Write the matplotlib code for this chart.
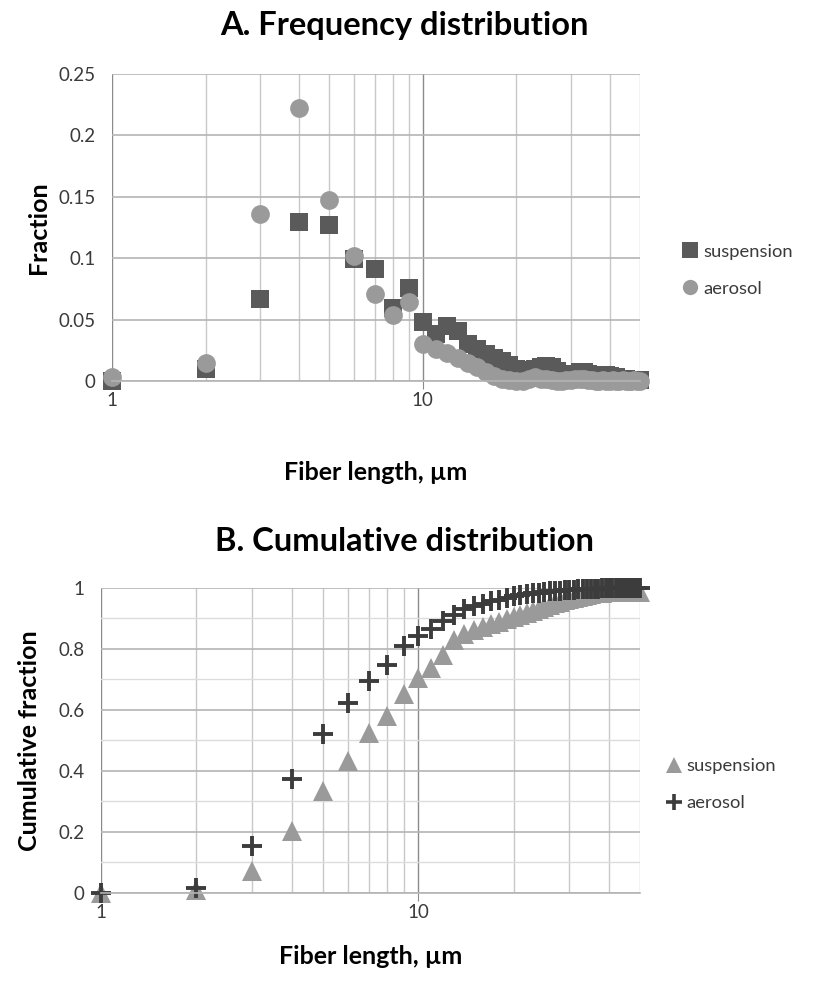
import matplotlib.pyplot as plt
from matplotlib.lines import Line2D
from matplotlib.ticker import FixedLocator, NullFormatter, FuncFormatter

plt.rcParams['font.family'] = ['Lato', 'DejaVu Sans']

# fiber length bins, um
length = list(range(1, 51))

# A. frequency distribution
freq_suspension = [0.0, 0.0095, 0.067, 0.129, 0.127, 0.099, 0.091, 0.059, 0.076, 0.048,
                   0.038, 0.045, 0.041, 0.030, 0.026, 0.022, 0.019, 0.016, 0.013, 0.010,
                   0.009, 0.009, 0.010, 0.011, 0.012, 0.011, 0.008, 0.006, 0.005, 0.005,
                   0.006, 0.007, 0.007, 0.006, 0.005, 0.004, 0.004, 0.005, 0.005, 0.004,
                   0.003, 0.003, 0.002, 0.002, 0.002, 0.001, 0.001, 0.001, 0.001, 0.001]
freq_aerosol = [0.003, 0.015, 0.136, 0.222, 0.147, 0.102, 0.071, 0.054, 0.064, 0.030,
                0.026, 0.023, 0.019, 0.015, 0.011, 0.007, 0.004, 0.002, 0.001, 0.0,
                0.0, 0.002, 0.003, 0.002, 0.002, 0.001, 0.0, 0.0, 0.001, 0.001,
                0.002, 0.002, 0.002, 0.001, 0.001, 0.0, 0.0, 0.001, 0.0, 0.0,
                0.001, 0.0, 0.0, 0.001, 0.0, 0.0, 0.0, 0.001, 0.0, 0.0]

# B. cumulative distribution
cum_suspension = [0.0, 0.01, 0.072, 0.203, 0.333, 0.432, 0.523, 0.579, 0.653, 0.705,
                  0.737, 0.779, 0.827, 0.848, 0.860, 0.871, 0.881, 0.889, 0.896, 0.903,
                  0.910, 0.917, 0.924, 0.931, 0.938, 0.944, 0.949, 0.954, 0.958, 0.962,
                  0.966, 0.970, 0.974, 0.977, 0.980, 0.982, 0.983, 0.984, 0.985, 0.985,
                  0.985, 0.985, 0.985, 0.986, 0.986, 0.986, 0.986, 0.986, 0.986, 0.986]
cum_aerosol = [0.0, 0.016, 0.153, 0.374, 0.522, 0.623, 0.694, 0.746, 0.810, 0.840,
               0.866, 0.890, 0.911, 0.930, 0.940, 0.948, 0.955, 0.961, 0.967, 0.972,
               0.976, 0.979, 0.982, 0.984, 0.986, 0.988, 0.989, 0.990, 0.991, 0.992,
               0.993, 0.994, 0.995, 0.996, 0.996, 0.997, 0.997, 0.998, 0.998, 0.998,
               0.999, 0.999, 0.999, 0.999, 0.999, 1.0, 1.0, 1.0, 1.0, 1.0]

DARK = '#5a5a5a'
LIGHT = '#9a9a9a'
TXT = '#3a3a3a'


def setup_axis(ax, ymax, ymajor, yminor=None):
    ax.set_xscale('log')
    ax.set_xlim(1, 50)
    ax.set_ylim(0, ymax)
    ax.xaxis.set_major_locator(FixedLocator([1, 10]))
    ax.xaxis.set_minor_locator(FixedLocator([2, 3, 4, 5, 6, 7, 8, 9, 20, 30, 40, 50]))
    ax.xaxis.set_major_formatter(FuncFormatter(lambda v, p: '%g' % v))
    ax.xaxis.set_minor_formatter(NullFormatter())
    ax.yaxis.set_major_locator(FixedLocator(ymajor))
    ax.yaxis.set_major_formatter(FuncFormatter(lambda v, p: '%g' % round(v, 3)))
    if yminor is not None:
        ax.yaxis.set_minor_locator(FixedLocator(yminor))
        ax.grid(True, which='minor', axis='y', color='#dcdcdc', lw=1)
    ax.grid(True, which='minor', axis='x', color='#c8c8c8', lw=1)
    ax.grid(True, which='major', axis='x', color='#8a8a8a', lw=1)
    ax.grid(True, which='major', axis='y', color='#b4b4b4', lw=1.2)
    ax.set_axisbelow(True)
    for s in ['top', 'right', 'left']:
        ax.spines[s].set_visible(False)
    ax.spines['bottom'].set_color('#b4b4b4')
    ax.spines['bottom'].set_linewidth(1.2)
    ax.tick_params(axis='x', which='major', length=6, color='#8a8a8a', direction='out',
                   labelsize=13.5, labelcolor=TXT, pad=2)
    ax.tick_params(axis='x', which='minor', length=0)
    ax.tick_params(axis='y', which='both', length=0, labelsize=13.5, labelcolor=TXT, pad=12)


fig = plt.figure(figsize=(8.13, 9.82), dpi=100)

# --- A ---
ax1 = fig.add_axes([0.138, 0.612, 0.649, 0.313])
setup_axis(ax1, 0.25, [0, 0.05, 0.1, 0.15, 0.2, 0.25])
ax1.plot(length, freq_suspension, 's', color=DARK, ms=13, mew=0, clip_on=False)
ax1.plot(length, freq_aerosol, 'o', color=LIGHT, ms=13.5, mew=0, clip_on=False)
fig.text(0.498, 0.974, 'A. Frequency distribution', fontsize=23.5, fontweight='bold',
         ha='center', va='center')
ax1.set_ylabel('Fraction', fontsize=18, fontweight='bold', labelpad=6)
ax1.set_xlabel('Fiber length, µm', fontsize=18, fontweight='bold', labelpad=37)

h1 = [Line2D([], [], ls='', marker='s', color=DARK, ms=11, mew=0),
      Line2D([], [], ls='', marker='o', color=LIGHT, ms=11, mew=0)]
fig.legend(h1, ['suspension', 'aerosol'], loc='center left',
           bbox_to_anchor=(0.815, 0.725), frameon=False, fontsize=13.2,
           handletextpad=0.1, labelspacing=1.15, handlelength=1.2,
           labelcolor=TXT)

# --- B ---
ax2 = fig.add_axes([0.124, 0.0906, 0.663, 0.311])
setup_axis(ax2, 1.0, [0, 0.2, 0.4, 0.6, 0.8, 1.0], [0.1, 0.3, 0.5, 0.7, 0.9])
ax2.plot(length, cum_suspension, '^', color=LIGHT, ms=15, mew=0, clip_on=False)
ax2.plot(length, cum_aerosol, '+', color='#3c3c3c', ms=14, mew=2.8, clip_on=False)
fig.text(0.498, 0.449, 'B. Cumulative distribution', fontsize=23.5, fontweight='bold',
         ha='center', va='center')
ax2.set_ylabel('Cumulative fraction', fontsize=18, fontweight='bold', labelpad=12)
ax2.set_xlabel('Fiber length, µm', fontsize=18, fontweight='bold', labelpad=17)

h2 = [Line2D([], [], ls='', marker='^', color=LIGHT, ms=12, mew=0),
      Line2D([], [], ls='', marker='+', color='#3c3c3c', ms=12, mew=2.6)]
fig.legend(h2, ['suspension', 'aerosol'], loc='center left',
           bbox_to_anchor=(0.795, 0.201), frameon=False, fontsize=13.2,
           handletextpad=0.1, labelspacing=1.15, handlelength=1.2,
           labelcolor=TXT)

fig.savefig('out.png', dpi=100)
